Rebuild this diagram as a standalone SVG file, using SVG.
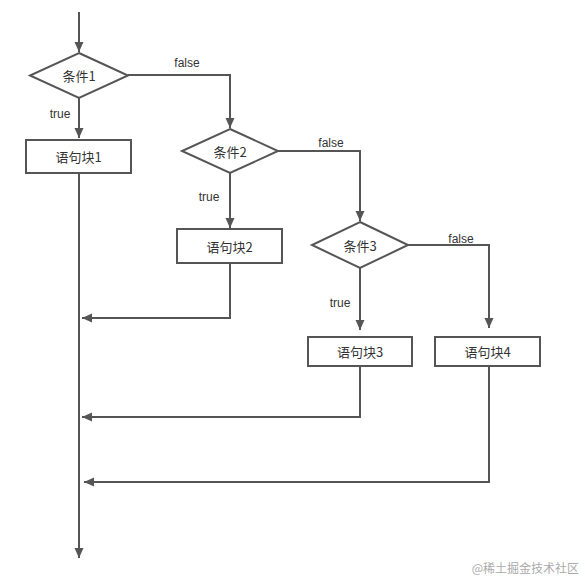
<svg xmlns="http://www.w3.org/2000/svg" width="585" height="580" viewBox="0 0 585 580">
<style>
.shape{fill:#fff;stroke:#555;stroke-width:2}
.line{fill:none;stroke:#555;stroke-width:2}
.t{font-family:"Noto Sans CJK SC","Liberation Sans",sans-serif;font-size:13px;fill:#333;text-anchor:middle;dominant-baseline:central}
.lbl{font-family:"Liberation Sans","Noto Sans CJK SC",sans-serif;font-size:12px;fill:#333;text-anchor:middle}
.wm{font-family:"Noto Sans CJK SC",serif;font-size:12px;fill:#aaa;text-anchor:end}
</style>
<defs>
<marker id="arr" markerUnits="userSpaceOnUse" markerWidth="10" markerHeight="10" viewBox="0 0 10 10" refX="10" refY="5" orient="auto">
<path d="M0,0.5 L10,5 L0,9.5 Z" fill="#555"/>
</marker>
</defs>
<g id="connectors">
<path class="line" d="M79,12 V52" marker-end="url(#arr)"/>
<path class="line" d="M79,98 V138" marker-end="url(#arr)"/>
<path class="line" d="M128,75 H230 V128" marker-end="url(#arr)"/>
<path class="line" d="M79,173 V558" marker-end="url(#arr)"/>
<path class="line" d="M230,173 V228" marker-end="url(#arr)"/>
<path class="line" d="M278,151 H360 V221" marker-end="url(#arr)"/>
<path class="line" d="M230,263 V318 H82" marker-end="url(#arr)"/>
<path class="line" d="M360,268 V330" marker-end="url(#arr)"/>
<path class="line" d="M408,245 H489 V328" marker-end="url(#arr)"/>
<path class="line" d="M360,366 V417 H82" marker-end="url(#arr)"/>
<path class="line" d="M489,366 V482 H84" marker-end="url(#arr)"/>
<text class="lbl" x="187" y="67">false</text>
<text class="lbl" x="60" y="118">true</text>
<text class="lbl" x="331" y="147">false</text>
<text class="lbl" x="209" y="201">true</text>
<text class="lbl" x="461" y="243">false</text>
<text class="lbl" x="340" y="307">true</text>
</g>
<g id="cond1">
<polygon class="shape" points="79,53 128,75.5 79,98 30,75.5"/>
<text class="t" x="79" y="75.5">条件1</text>
</g>
<g id="block1">
<rect class="shape" x="26" y="140" width="105" height="33"/>
<text class="t" x="78.5" y="156.5">语句块1</text>
</g>
<g id="cond2">
<polygon class="shape" points="230,129 278,151 230,173 182,151"/>
<text class="t" x="230" y="151">条件2</text>
</g>
<g id="block2">
<rect class="shape" x="177" y="229" width="105" height="34"/>
<text class="t" x="229.5" y="246">语句块2</text>
</g>
<g id="cond3">
<polygon class="shape" points="360,222 408,245 360,268 312,245"/>
<text class="t" x="360" y="245">条件3</text>
</g>
<g id="block3">
<rect class="shape" x="308" y="337" width="104" height="29"/>
<text class="t" x="360" y="351.5">语句块3</text>
</g>
<g id="block4">
<rect class="shape" x="435" y="337" width="105" height="29"/>
<text class="t" x="487.5" y="351.5">语句块4</text>
</g>
<text class="wm" x="579" y="573">@稀土掘金技术社区</text>
</svg>
